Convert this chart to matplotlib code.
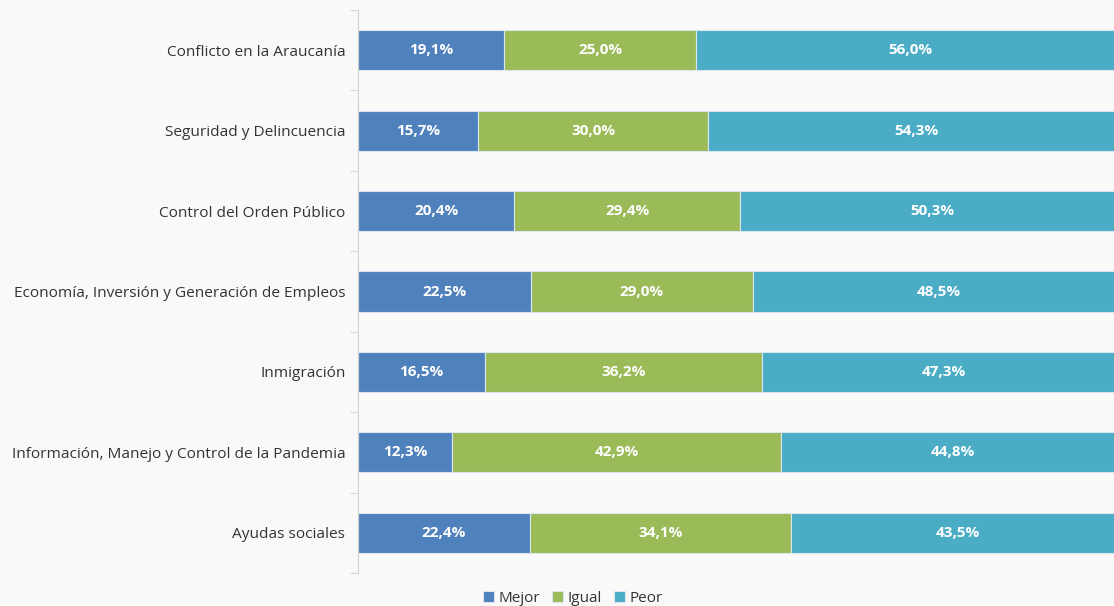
import matplotlib.pyplot as plt
import numpy as np

categories = ['Conflicto en la Araucanía', 'Seguridad y Delincuencia', 'Control del Orden Público',
              'Economía, Inversión y Generación de Empleos', 'Inmigración',
              'Información, Manejo y Control de la Pandemia', 'Ayudas sociales']
mejor = [19.1, 15.7, 20.4, 22.5, 16.5, 12.3, 22.4]
igual = [25.0, 30.0, 29.4, 29.0, 36.2, 42.9, 34.1]
peor = [56.0, 54.3, 50.3, 48.5, 47.3, 44.8, 43.5]
series_names = ['Mejor', 'Igual', 'Peor']
colors = ['#4F81BD', '#9BBB59', '#4BACC6']

plt.rcParams['font.family'] = ['Open Sans', 'DejaVu Sans']

fig = plt.figure(figsize=(11.14, 6.06), dpi=100, facecolor='#f9f9f9')
ax = fig.add_axes([358 / 1114, 1 - 573 / 606, 1 - 358 / 1114, (573 - 10) / 606])
ax.set_facecolor('#fafafa')

y = np.arange(len(categories))
left = np.zeros(len(categories))
for name, vals, c in zip(series_names, [mejor, igual, peor], colors):
    vals = np.array(vals)
    ax.barh(y, vals, left=left, height=0.5, color=c, edgecolor='#dce6f0',
            linewidth=0.8, label=name)
    for yi, l, v in zip(y, left, vals):
        ax.text(l + v / 2, yi, f'{v:.1f}%'.replace('.', ','), ha='center', va='center',
                color='white', fontsize=11, fontweight='bold')
    left += vals

ax.set_xlim(0, 98.6)
ax.set_ylim(len(categories) - 0.5, -0.5)
ax.set_xticks([])
ax.set_yticks(y)
ax.set_yticklabels(categories, fontsize=11.1, color='#333333')
ax.tick_params(axis='y', which='major', length=0, pad=9)
ax.set_yticks(np.arange(-0.5, len(categories)), minor=True)
ax.tick_params(axis='y', which='minor', length=6, color='#d0d0d0')
for s in ['top', 'right', 'bottom']:
    ax.spines[s].set_visible(False)
ax.spines['left'].set_color('#d0d0d0')

fig.legend(loc='center', bbox_to_anchor=(573 / 1114, 1 - 598 / 606), ncol=3, frameon=False,
           fontsize=11, handlelength=0.7, handleheight=0.7, handletextpad=0.3,
           columnspacing=0.8, labelcolor='#333333')

fig.savefig('out.png', dpi=100, facecolor=fig.get_facecolor())
